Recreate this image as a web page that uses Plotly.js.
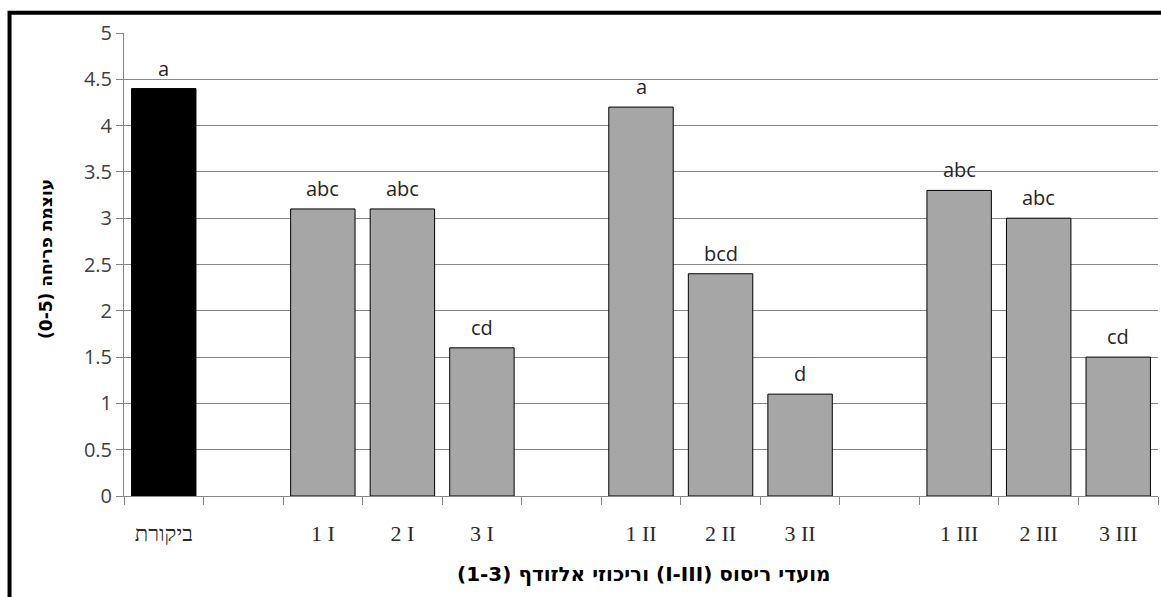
<!DOCTYPE html>
<html><head><meta charset="utf-8">
<script src="https://cdn.plot.ly/plotly-3.0.1.min.js"></script>
<style>html,body{margin:0;padding:0;background:#fff}#chart{width:1161px;height:597px}</style>
</head><body><div id="chart"></div>
<script>
var categories = ["ביקורת", "", "1 I", "2 I", "3 I", "", "1 II", "2 II", "3 II", "", "1 III", "2 III", "3 III"];
var values = [4.4, null, 3.1, 3.1, 1.6, null, 4.2, 2.4, 1.1, null, 3.3, 3.0, 1.5];
var letters = ["a", "", "abc", "abc", "cd", "", "a", "bcd", "d", "", "abc", "abc", "cd"];
var barColors = ["#000000", "#a6a6a6", "#a6a6a6", "#a6a6a6", "#a6a6a6", "#a6a6a6", "#a6a6a6", "#a6a6a6", "#a6a6a6", "#a6a6a6", "#a6a6a6", "#a6a6a6", "#a6a6a6"];
var yTicks = [0, 0.5, 1, 1.5, 2, 2.5, 3, 3.5, 4, 4.5, 5];
var yTickText = ["0", "0.5", "1", "1.5", "2", "2.5", "3", "3.5", "4", "4.5", "5"];
var xTitle = "\u202Bמועדי ריסוס (I-III) וריכוזי אלזודף (1-3)\u202C";
var yTitle = "\u202Bעוצמת פריחה (0-5)\u202C";

var positions = categories.map(function (c, i) { return i; });
var labelPos = [], labelText = [];
categories.forEach(function (c, i) { if (c !== "") { labelPos.push(i); labelText.push(c); } });

var trace = {
  type: "bar",
  x: positions,
  y: values,
  marker: {color: barColors, line: {color: "#000000", width: 1}},
  hoverinfo: "none"
};

var annotations = [];
values.forEach(function (v, i) {
  if (v !== null && letters[i] !== "") {
    annotations.push({
      x: positions[i], y: v, xref: "x", yref: "y",
      text: letters[i], showarrow: false,
      xanchor: "center", yanchor: "bottom", yshift: 5,
      font: {family: "'Open Sans', sans-serif", size: 20, color: "#262626"}
    });
  }
});
annotations.push({
  xref: "paper", yref: "paper", x: -0.0754, y: 0.512,
  xanchor: "center", yanchor: "middle", textangle: -90, showarrow: false,
  text: yTitle,
  font: {family: "'DejaVu Sans', sans-serif", size: 17, color: "#000000", weight: "bold"}
});
annotations.push({
  xref: "paper", yref: "paper", x: 0.503, y: -0.168,
  xanchor: "center", yanchor: "middle", showarrow: false,
  text: xTitle,
  font: {family: "'DejaVu Sans', sans-serif", size: 20, color: "#000000", weight: "bold"}
});

var layout = {
  width: 1161, height: 597,
  margin: {l: 124, r: 3, t: 33, b: 101},
  paper_bgcolor: "#ffffff", plot_bgcolor: "#ffffff",
  bargap: 0.19,
  showlegend: false,
  xaxis: {
    range: [-0.5, categories.length - 0.5],
    tickmode: "array", tickvals: labelPos, ticktext: labelText,
    ticks: "",
    minor: {tick0: -0.5, dtick: 1, ticks: "outside", ticklen: 8, tickcolor: "#868686", tickwidth: 1, showgrid: false},
    showline: true, linecolor: "#868686", linewidth: 1,
    showgrid: false, zeroline: false,
    ticklabelstandoff: 18,
    tickfont: {family: "'Liberation Serif', 'DejaVu Serif', serif", size: 22, color: "#2a2a2a"},
    fixedrange: true
  },
  yaxis: {
    range: [0, 5],
    tickmode: "array", tickvals: yTicks, ticktext: yTickText,
    ticksuffix: "\u2002",
    ticks: "outside", ticklen: 7, tickcolor: "#868686",
    showline: true, linecolor: "#868686", linewidth: 1,
    showgrid: true, gridcolor: "#868686", gridwidth: 1,
    zeroline: false,
    tickfont: {family: "'Open Sans', sans-serif", size: 20, color: "#404040"},
    fixedrange: true
  },
  annotations: annotations,
  shapes: [{
    type: "rect", xref: "paper", yref: "paper",
    x0: -0.1107, x1: 1.05, y0: -0.5, y1: 1.044,
    line: {color: "#000000", width: 4}, fillcolor: "rgba(0,0,0,0)", layer: "above"
  }]
};

Plotly.newPlot("chart", [trace], layout, {displayModeBar: false, staticPlot: true});
</script></body></html>
